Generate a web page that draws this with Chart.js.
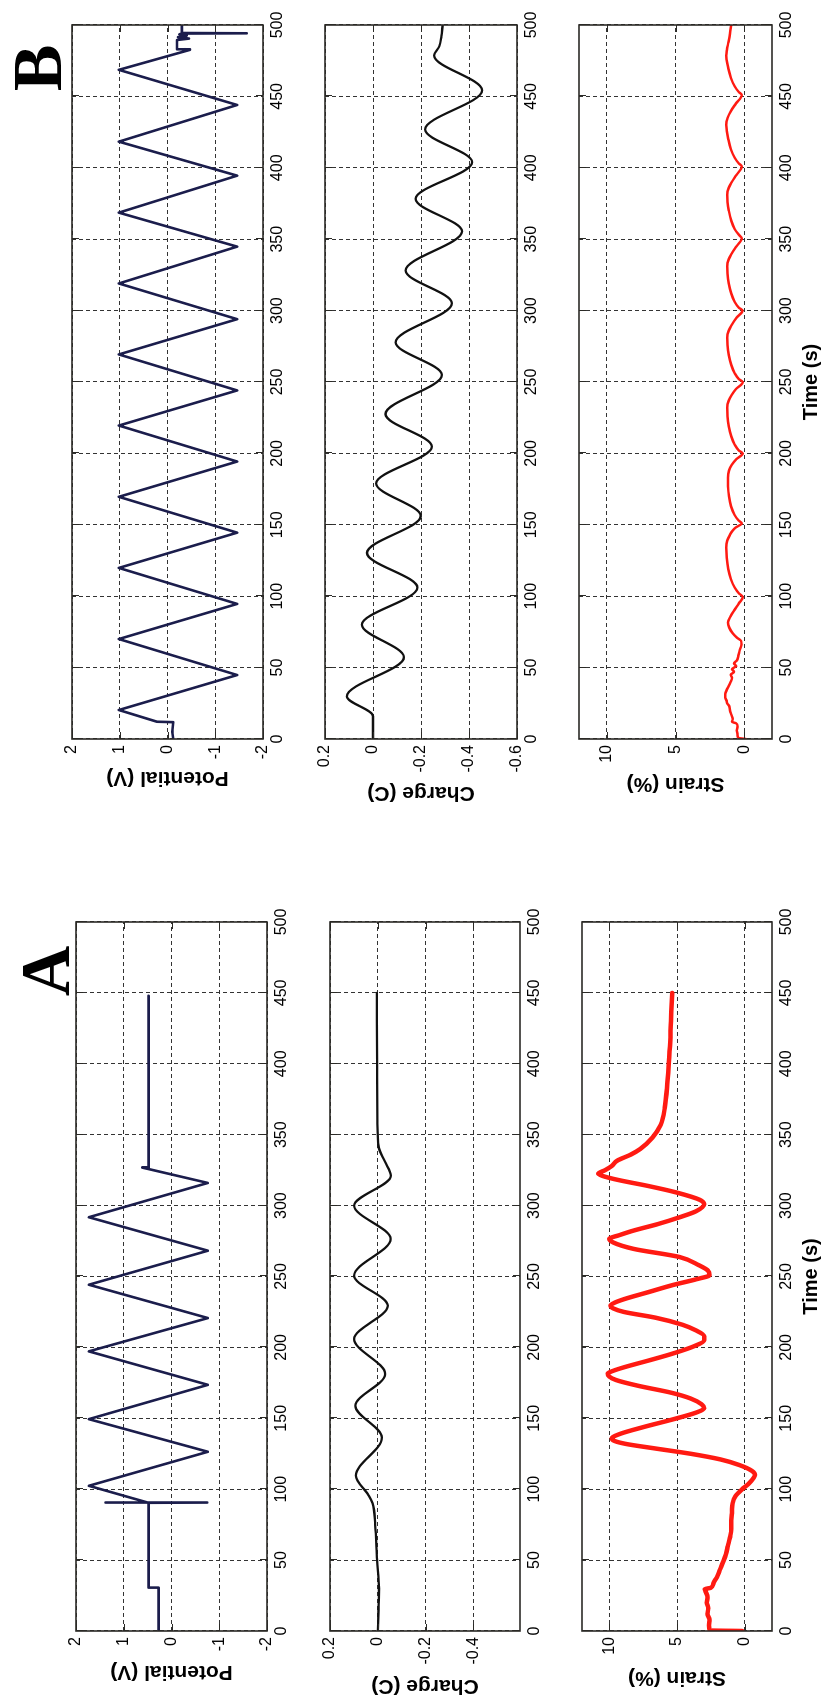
<!DOCTYPE html>
<html>
<head>
<meta charset="utf-8">
<script src="https://cdn.jsdelivr.net/npm/chart.js@4.4.1/dist/chart.umd.min.js"></script>
<style>
  html, body { margin: 0; padding: 0; background: #fff; overflow: hidden; width: 822px; height: 1702px; }
  /* the figure is laid out landscape and turned a quarter turn counter-clockwise */
  #fig { position: absolute; left: 0; top: 0; width: 1702px; height: 822px; background: #fff;
         transform-origin: 0 0; transform: translate(0px, 1702px) rotate(-90deg); }
  .letter { position: absolute; width: 100px; text-align: center; line-height: 1;
            font: bold 70px "Liberation Serif", "Times New Roman", serif; color: #000; }
</style>
</head>
<body>
<div id="fig">
  <div class="letter" style="left:681px; top:6px;">A</div>
  <div class="letter" style="left:1584px; top:-2px;">B</div>
</div>
<script>
// ---------- time axis ----------
const timeTicks = [0, 50, 100, 150, 200, 250, 300, 350, 400, 450, 500];
const timeTickLabels = ['0', '50', '100', '150', '200', '250', '300', '350', '400', '450', '500'];

// ---------- value axes ----------
const potTicks = [-2, -1, 0, 1, 2];
const potTickLabels = ['-2', '-1', '0', '1', '2'];
const chargeTicksA = [-0.4, -0.2, 0, 0.2];
const chargeTickLabelsA = ['-0.4', '-0.2', '0', '0.2'];
const chargeTicksB = [-0.6, -0.4, -0.2, 0, 0.2];
const chargeTickLabelsB = ['-0.6', '-0.4', '-0.2', '0', '0.2'];
const strainTicks = [0, 5, 10];
const strainTickLabels = ['0', '5', '10'];

// ---------- experiment A ----------
const potA_t = [0, 30.6, 30.6, 90.4, 90.5, 90.6, 90.7, 102.4, 126.4, 149.4, 173.6, 197.2, 220.7, 244.2, 268.2, 291.8, 316.0, 326.8, 327.0, 448];
const potA_v = [0.27, 0.27, 0.48, 0.48, 1.38, -0.75, 0.5, 1.73, -0.76, 1.73, -0.76, 1.73, -0.76, 1.73, -0.76, 1.73, -0.76, 0.61, 0.48, 0.48];

const chgA_t = [0, 15, 30, 50, 75, 90, 96, 109.5, 136.5, 158.8, 181.2, 205.9, 229.4, 250.6, 276.5, 300, 321, 331, 341, 360, 400, 450];
const chgA_q = [0, -0.003, -0.005, 0.003, 0.011, 0.022, 0.04, 0.092, -0.017, 0.094, -0.031, 0.099, -0.042, 0.099, -0.054, 0.099, -0.055, -0.03, -0.004, 0.002, 0.003, 0.004];

const strA_t = [0, 0.4, 4, 8, 12, 16, 20, 24, 28, 29.5, 30.5, 34, 38, 43, 48.8, 54, 60, 66, 72, 78, 84, 90, 95, 100, 104, 108, 110, 113, 117, 121, 125, 129, 132, 134, 136, 139, 144, 149, 154, 157, 160, 164, 168, 173, 177, 179.5, 181.5, 183.5, 186, 191, 196, 201, 205, 208, 212, 216, 221, 225, 227.5, 229.5, 231.5, 234, 239, 244, 248, 251, 254, 258, 263.7, 269.5, 274, 276.7, 279, 282.4, 287, 291.8, 296, 301, 304, 309.4, 314, 318, 321, 322.5, 325, 328, 331.7, 336, 340, 348, 357, 369, 388, 400, 415, 430, 440, 450];
const strA_s = [0.2, 2.6, 2.65, 2.6, 2.75, 2.7, 2.8, 2.75, 2.9, 2.95, 2.5, 2.3, 2.05, 1.85, 1.6, 1.4, 1.25, 1.1, 1.0, 1.0, 0.95, 0.9, 0.7, 0.2, -0.3, -0.65, -0.75, -0.5, 0.4, 1.8, 4.0, 6.8, 8.8, 9.6, 9.8, 9.2, 7.4, 5.4, 3.6, 3.0, 3.2, 4.0, 5.4, 7.9, 9.5, 10.0, 10.1, 9.7, 8.9, 7.0, 5.2, 3.7, 3.0, 3.0, 3.6, 4.6, 6.6, 8.9, 9.7, 9.9, 9.6, 8.9, 7.1, 5.3, 3.6, 2.6, 2.7, 3.4, 4.8, 8.2, 9.7, 10.0, 9.3, 8.2, 6.4, 4.8, 3.6, 3.0, 3.3, 5.1, 7.2, 9.3, 10.5, 10.8, 10.3, 9.8, 9.4, 8.4, 7.7, 6.8, 6.2, 5.9, 5.7, 5.6, 5.5, 5.45, 5.4, 5.35];

// ---------- experiment B ----------
const potB_t = [0, 5, 11.8, 12.1, 20.3, 44.8, 70, 94.6, 119.8, 144.5, 169.6, 194.3, 219.5, 244.1, 269.3, 294, 319, 344.8, 368.6, 394.5, 418.3, 444, 468.6, 482.6, 483, 489.5, 490.5, 491.5, 492.5, 493.5, 494, 494.2, 494.4, 500];
const potB_v = [-0.12, -0.1, -0.12, 0.22, 1.02, -1.46, 1.02, -1.46, 1.02, -1.46, 1.02, -1.46, 1.02, -1.46, 1.02, -1.46, 1.02, -1.46, 1.02, -1.46, 1.02, -1.46, 1.02, -0.47, -0.2, -0.2, -0.45, -0.22, -0.4, -0.25, -0.3, -1.66, -0.3, -0.3];

const chgB_t = [0, 16, 29.8, 57.4, 80, 106, 130.3, 156.2, 178.9, 204.8, 227.5, 255, 277.7, 305.2, 328, 355.5, 378.2, 404, 426.8, 454.3, 478.6, 485, 492, 500];
const chgB_q = [0, 0, 0.109, -0.129, 0.046, -0.185, 0.025, -0.199, -0.013, -0.245, -0.052, -0.287, -0.094, -0.329, -0.136, -0.371, -0.178, -0.413, -0.217, -0.455, -0.255, -0.276, -0.285, -0.29];

const strB_t = [0, 0.8, 3, 6, 9, 11, 12, 14, 17, 20, 23, 25, 27, 29, 31.4, 34, 37, 40, 43, 45, 47, 49, 51, 53, 55, 58, 62, 66, 68.7, 71, 74, 78, 81.7, 86, 90, 95, 99.5,
  102, 106, 112, 119, 127, 134, 139, 143, 146, 148, 151,
  153, 157, 163, 170, 177, 183, 188, 192, 196, 200,
  202, 206, 212, 219, 226, 232, 237, 241, 245, 250,
  252, 256, 262, 269, 276, 281, 286, 290, 295, 300,
  302, 306, 312, 319, 326, 331, 336, 340, 345, 350.6,
  353, 357, 363, 370, 376, 381, 386, 390, 395, 401,
  403, 407, 413, 420, 426, 430, 435, 440, 445, 451,
  453, 457, 463, 470, 476, 478.6, 483, 488, 494, 500];
const strB_s = [-0.1, 0.45, 0.5, 0.55, 0.5, 0.6, 0.9, 0.85, 0.95, 1.05, 1.1, 1.25, 1.3, 1.4, 1.39, 1.3, 1.15, 1.0, 0.9, 1.0, 0.75, 0.9, 0.6, 0.75, 0.55, 0.45, 0.35, 0.22, 0.24, 0.55, 0.85, 1.1, 1.2, 1.0, 0.75, 0.4, 0.12,
  0.4, 0.7, 0.98, 1.18, 1.29, 1.32, 1.25, 1.05, 0.85, 0.65, 0.19,
  0.42, 0.72, 0.97, 1.12, 1.19, 1.2, 1.12, 0.92, 0.58, 0.12,
  0.4, 0.7, 0.96, 1.13, 1.22, 1.24, 1.14, 0.92, 0.62, 0.12,
  0.4, 0.7, 0.96, 1.13, 1.22, 1.24, 1.14, 0.92, 0.58, 0.14,
  0.4, 0.7, 0.96, 1.13, 1.22, 1.24, 1.14, 0.92, 0.58, 0.19,
  0.4, 0.7, 0.96, 1.13, 1.22, 1.24, 1.14, 0.92, 0.58, 0.19,
  0.4, 0.7, 0.98, 1.17, 1.28, 1.32, 1.22, 0.97, 0.62, 0.19,
  0.4, 0.7, 0.98, 1.18, 1.3, 1.32, 1.26, 1.16, 1.05, 0.96];

// ---------- drawing ----------
Chart.defaults.font.family = '"Liberation Sans", Arial, Helvetica, sans-serif';
Chart.defaults.color = '#000';

const FRAME = '#2b2a26';
const GRID = '#333';

// solid axes box with short inward tick marks, as in the original plotting style
const boxPlugin = {
  id: 'box',
  afterDraw(chart) {
    const { ctx, chartArea: a, scales } = chart;
    ctx.save();
    ctx.setLineDash([]);
    ctx.strokeStyle = FRAME;
    ctx.lineWidth = 1;
    const tl = 7;
    ctx.beginPath();
    scales.x.ticks.forEach(t => {
      const p = Math.round(scales.x.getPixelForValue(t.value)) + 0.5;
      ctx.moveTo(p, a.bottom); ctx.lineTo(p, a.bottom - tl);
      ctx.moveTo(p, a.top); ctx.lineTo(p, a.top + tl);
    });
    scales.y.ticks.forEach(t => {
      const p = Math.round(scales.y.getPixelForValue(t.value)) + 0.5;
      ctx.moveTo(a.left, p); ctx.lineTo(a.left + tl, p);
      ctx.moveTo(a.right, p); ctx.lineTo(a.right - tl, p);
    });
    ctx.stroke();
    ctx.lineWidth = 1.6;
    ctx.strokeRect(a.left, a.top, a.right - a.left, a.bottom - a.top);
    ctx.restore();
  }
};

const fig = document.getElementById('fig');

function toPoints(ts, vs) { return ts.map((t, i) => ({ x: t, y: vs[i] })); }

function addPlot(spec) {
  const padL = 90, padT = 20, padR = 25, padB = spec.xTitle ? 70 : 36;
  const w = spec.R - spec.L, h = spec.B - spec.T;
  const c = document.createElement('canvas');
  c.width = w + padL + padR;
  c.height = h + padT + padB;
  c.style.cssText = 'position:absolute;left:' + (spec.L - padL) + 'px;top:' + (spec.T - padT) + 'px;width:' + c.width + 'px;height:' + c.height + 'px;';
  fig.appendChild(c);

  new Chart(c, {
    type: 'line',
    data: {
      datasets: [{
        data: toPoints(spec.t, spec.v),
        borderColor: spec.color,
        borderWidth: spec.lw,
        pointRadius: 0,
        fill: false,
        tension: 0,
        cubicInterpolationMode: spec.smooth ? 'monotone' : 'default',
        borderJoinStyle: 'round',
        borderCapStyle: 'round'
      }]
    },
    options: {
      responsive: false,
      animation: false,
      devicePixelRatio: 1,
      events: [],
      layout: { padding: { left: 0, top: padT, right: padR, bottom: 0 } },
      plugins: { legend: { display: false }, tooltip: { enabled: false } },
      scales: {
        x: {
          type: 'linear', min: 0, max: 500,
          afterBuildTicks: s => { s.ticks = timeTicks.map(v => ({ value: v })); },
          afterFit: s => { s.height = padB; },
          ticks: {
            padding: 5, maxRotation: 0, minRotation: 0, autoSkip: false,
            font: { size: 16 }, color: '#000',
            callback: (v, i) => timeTickLabels[i]
          },
          grid: { color: GRID, lineWidth: 1, drawTicks: false },
          border: { display: false, dash: [4, 3] },
          title: spec.xTitle ? {
            display: true, text: spec.xTitle, color: '#000',
            font: { size: 20, weight: 'bold' }, padding: { top: 0, bottom: 19 }
          } : { display: false }
        },
        y: {
          type: 'linear', min: spec.yMin, max: spec.yMax,
          afterBuildTicks: s => { s.ticks = spec.yTicks.map(v => ({ value: v })); },
          afterFit: s => { s.width = padL; },
          ticks: {
            padding: 6, font: { size: 16 }, color: '#000', autoSkip: false,
            callback: (v, i) => spec.yLabels[i]
          },
          grid: { color: GRID, lineWidth: 1, drawTicks: false },
          border: { display: false, dash: [4, 3] },
          title: {
            display: true, text: spec.yTitle, color: '#000',
            font: { size: 21, weight: 'bold' }, padding: { top: padL - spec.titleGap - 12.6, bottom: 0 }
          }
        }
      }
    },
    plugins: [boxPlugin]
  });
}

const NAVY = '#1b1d4c';
const BLACK = '#111111';
const RED = '#ff1a12';

// experiment A (left of the landscape sheet)
addPlot({ L: 71, R: 780, T: 76, B: 267, t: potA_t, v: potA_v, color: NAVY, lw: 2.6, smooth: false,
  yMin: -2, yMax: 2, yTicks: potTicks, yLabels: potTickLabels, yTitle: 'Potential (V)', titleGap: 41 });
addPlot({ L: 71, R: 780, T: 330, B: 520, t: chgA_t, v: chgA_q, color: BLACK, lw: 2.3, smooth: true,
  yMin: -0.595, yMax: 0.2, yTicks: chargeTicksA, yLabels: chargeTickLabelsA, yTitle: 'Charge (C)', titleGap: 55 });
addPlot({ L: 71, R: 780, T: 582, B: 772, t: strA_t, v: strA_s, color: RED, lw: 4.5, smooth: true,
  yMin: -2, yMax: 12, yTicks: strainTicks, yLabels: strainTickLabels, yTitle: 'Strain (%)', titleGap: 47, xTitle: 'Time (s)' });

// experiment B (right of the landscape sheet)
addPlot({ L: 963, R: 1677, T: 72, B: 263, t: potB_t, v: potB_v, color: NAVY, lw: 2.6, smooth: false,
  yMin: -2, yMax: 2, yTicks: potTicks, yLabels: potTickLabels, yTitle: 'Potential (V)', titleGap: 39 });
addPlot({ L: 963, R: 1677, T: 325, B: 517, t: chgB_t, v: chgB_q, color: BLACK, lw: 2.3, smooth: true,
  yMin: -0.6, yMax: 0.2, yTicks: chargeTicksB, yLabels: chargeTickLabelsB, yTitle: 'Charge (C)', titleGap: 54 });
addPlot({ L: 963, R: 1677, T: 579, B: 772, t: strB_t, v: strB_s, color: RED, lw: 2.5, smooth: true,
  yMin: -2, yMax: 12, yTicks: strainTicks, yLabels: strainTickLabels, yTitle: 'Strain (%)', titleGap: 45, xTitle: 'Time (s)' });
</script>
</body>
</html>
